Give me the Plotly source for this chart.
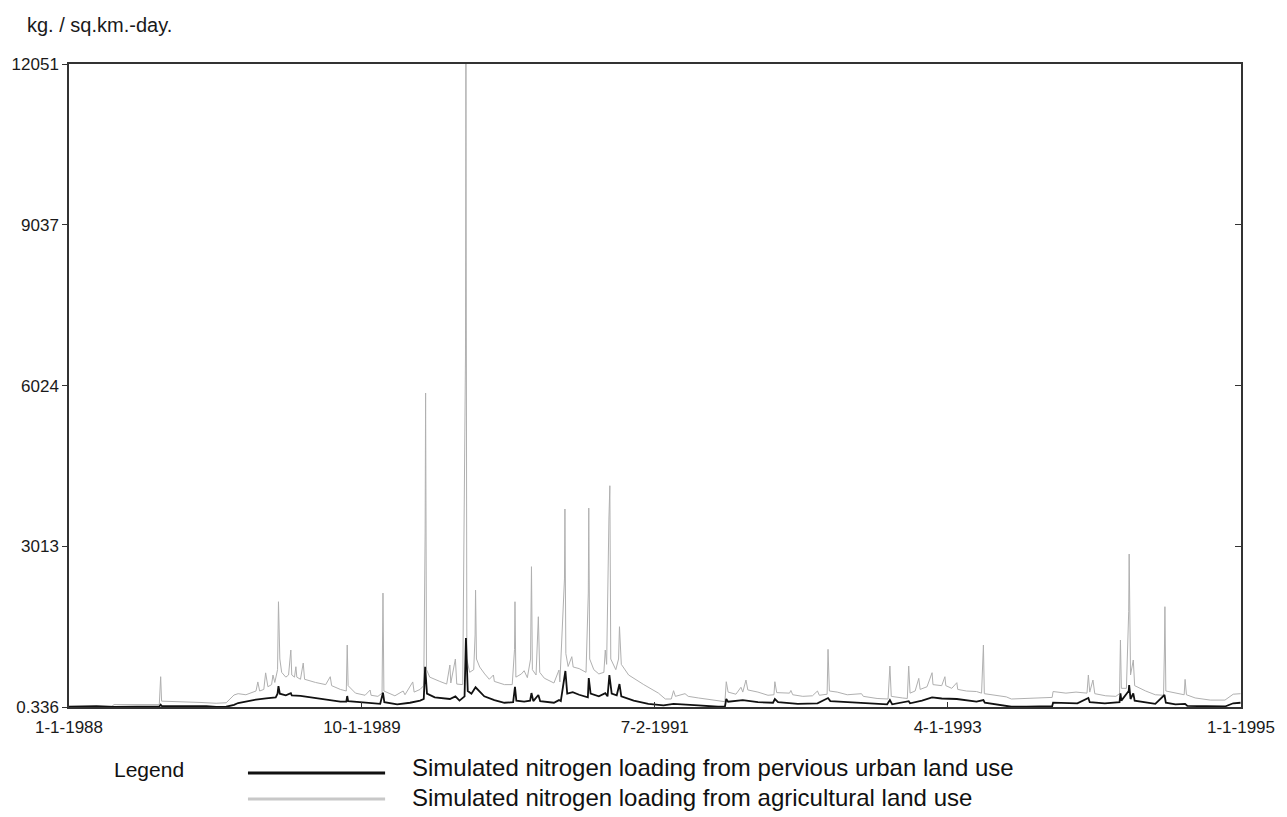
import pandas as pd
import plotly.graph_objects as go

# Day offsets from 1-1-1988 and simulated loadings (kg / sq.km.-day)
agri_days = [0, 93, 98, 197, 200, 202, 288, 321, 343, 354, 360, 369, 386, 408, 412, 416, 425, 429, 434, 442,
             445, 449, 455, 457, 460, 464, 473, 479, 484, 486, 492, 495, 497, 505, 511, 514, 538, 560, 570, 573,
             592, 605, 607, 609, 625, 646, 657, 659, 674, 683, 684, 685, 687, 711, 729, 733, 750, 753, 766, 774,
             777, 778, 780, 787, 809, 824, 831, 833, 843, 846, 859, 865, 866, 868, 874, 883, 886, 887, 889, 896,
             907, 917, 926, 928, 950, 967, 972, 973, 975, 987, 993, 1000, 1007, 1009, 1011, 1019, 1024, 1027,
             1037, 1058, 1069, 1071, 1081, 1082, 1084, 1089, 1097, 1100, 1113, 1128, 1133, 1134, 1136, 1145,
             1156, 1167, 1170, 1173, 1178, 1180, 1182, 1193, 1199, 1201, 1205, 1221, 1254, 1286, 1301, 1314,
             1319, 1323, 1344, 1351, 1373, 1416, 1431, 1434, 1438, 1455, 1466, 1470, 1477, 1481, 1503, 1525,
             1538, 1540, 1544, 1572, 1575, 1579, 1601, 1622, 1633, 1637, 1654, 1656, 1659, 1676, 1698, 1729,
             1733, 1763, 1787, 1791, 1794, 1818, 1829, 1832, 1835, 1846, 1854, 1857, 1872, 1883, 1885, 1904,
             1911, 1913, 1926, 1937, 1939, 1958, 1980, 1991, 1995, 1997, 2024, 2045, 2056, 2089, 2132, 2145,
             2147, 2175, 2197, 2221, 2224, 2227, 2234, 2238, 2262, 2284, 2292, 2294, 2296, 2307, 2312, 2313,
             2316, 2322, 2325, 2349, 2370, 2388, 2390, 2391, 2393, 2414, 2433, 2435, 2438, 2457, 2490, 2522,
             2540, 2556]
agri_vals = [5, 5, 45, 45, 568, 110, 85, 70, 80, 180, 225, 250, 230, 300, 470, 300, 330, 640, 380, 420,
             600, 460, 700, 1973, 900, 650, 560, 600, 1068, 600, 560, 755, 560, 520, 824, 520, 460, 420, 568, 400,
             330, 300, 1162, 400, 260, 220, 318, 220, 200, 260, 1162, 2136, 300, 210, 300, 230, 470, 280, 330, 400,
             3260, 5885, 700, 560, 480, 430, 787, 450, 900, 430, 420, 6560, 12051, 900, 650, 700, 1350, 2190, 900, 750,
             620, 520, 600, 480, 420, 420, 1080, 1973, 560, 620, 680, 550, 900, 2630, 700, 600, 1692, 650,
             540, 450, 693, 470, 2400, 3711, 1000, 760, 943, 750, 720, 650, 2136, 3729, 900, 700,
             620, 650, 1068, 800, 3542, 4147, 900, 700, 900, 1505, 800, 600, 420, 260, 150, 150,
             306, 200, 250, 200, 170, 110, 100, 474, 280, 240, 370, 280, 506, 320, 280, 220,
             230, 474, 270, 260, 310, 230, 200, 210, 300, 220, 240, 1081, 300, 280, 230, 250,
             200, 160, 150, 768, 200, 170, 160, 768, 260, 300, 537, 330, 380, 643, 420, 400,
             568, 400, 350, 456, 330, 300, 290, 260, 1162, 250, 210, 190, 150, 160, 170, 180,
             290, 260, 280, 260, 600, 280, 506, 250, 210, 200, 250, 1256, 350, 350, 1786, 2867,
             600, 881, 400, 300, 230, 220, 1106, 1880, 300, 260, 230, 518, 230, 170, 130, 130,
             240, 250]

urban_days = [0, 60, 100, 197, 200, 203, 300, 321, 343, 360, 369, 408, 430, 451, 455, 457, 460, 473, 484, 486,
              505, 549, 570, 592, 605, 607, 609, 657, 679, 685, 688, 716, 744, 766, 774, 777, 781, 798, 831, 843,
              852, 863, 866, 870, 878, 887, 891, 906, 928, 950, 969, 973, 976, 993, 1006, 1009, 1013, 1024, 1028,
              1058, 1069, 1073, 1083, 1087, 1099, 1113, 1132, 1134, 1138, 1156, 1170, 1175, 1179, 1184, 1195,
              1201, 1205, 1232, 1264, 1297, 1319, 1351, 1373, 1416, 1431, 1434, 1438, 1470, 1503, 1536, 1540,
              1547, 1590, 1633, 1656, 1661, 1698, 1742, 1785, 1791, 1796, 1832, 1835, 1861, 1883, 1904, 1937,
              1980, 1995, 1998, 2024, 2045, 2056, 2089, 2132, 2145, 2147, 2175, 2200, 2224, 2227, 2260, 2292,
              2294, 2296, 2312, 2313, 2316, 2322, 2325, 2349, 2370, 2390, 2393, 2414, 2435, 2440, 2490, 2522,
              2540, 2556]
urban_vals = [5, 15, 3, 10, 45, 15, 15, 3, 5, 40, 75, 140, 160, 180, 250, 393, 250, 220, 260, 220,
              210, 150, 130, 100, 100, 206, 110, 70, 60, 268, 90, 50, 80, 120, 150, 755, 250, 180, 150, 200,
              120, 200, 1293, 300, 250, 370, 330, 200, 130, 80, 90, 380, 120, 100, 120, 262, 110, 225, 110,
              80, 130, 110, 675, 250, 280, 230, 180, 543, 250, 200, 260, 200, 600, 250, 220,
              431, 200, 120, 60, 30, 60, 50, 30, 5, 5, 150, 100, 130, 90, 80, 150,
              90, 60, 70, 168, 110, 90, 60, 50, 130, 50, 110, 70, 120, 180, 160, 150,
              100, 131, 80, 50, 30, 5, 5, 10, 15, 81, 70, 70, 168, 90, 70, 90,
              256, 120, 300, 412, 150, 256, 120, 90, 60, 225, 80, 50, 60, 20, 10, 10,
              70, 80]

tick_dates = ["1988-01-01", "1989-10-01", "1991-07-02", "1993-04-01", "1995-01-01"]
tick_date_labels = ["1-1-1988", "10-1-1989", "7-2-1991", "4-1-1993", "1-1-1995"]
y_ticks = [0.336, 3013, 6024, 9037, 12051]
y_tick_labels = ["0.336", "3013", "6024", "9037", "12051"]

series_names = ["Simulated nitrogen loading from pervious urban land use",
                "Simulated nitrogen loading from agricultural land use"]

start = pd.Timestamp("1988-01-01")
agri_x = start + pd.to_timedelta(agri_days, unit="D")
urban_x = start + pd.to_timedelta(urban_days, unit="D")

FONT = "Liberation Sans, Arial, sans-serif"
GRAY = "#b0b0b0"
TXT = "#1a1a1a"

fig = go.Figure()
fig.add_trace(go.Scatter(x=agri_x, y=agri_vals, mode="lines", line=dict(color=GRAY, width=1),
                         showlegend=False, name=series_names[1]))
fig.add_trace(go.Scatter(x=urban_x, y=urban_vals, mode="lines", line=dict(color="#111111", width=1.8),
                         showlegend=False, name=series_names[0]))
# invisible trace so the right-hand axis (inside ticks) is drawn
fig.add_trace(go.Scatter(x=[agri_x[0]], y=[y_ticks[0]], yaxis="y2", mode="markers",
                         marker=dict(opacity=0), showlegend=False, hoverinfo="skip"))

fig.update_layout(
    width=1287, height=817,
    margin=dict(l=67, r=41, t=64, b=110),
    paper_bgcolor="white", plot_bgcolor="white",
    font=dict(family=FONT, size=17, color=TXT),
    xaxis=dict(range=[tick_dates[0], tick_dates[-1]], tickvals=tick_dates, ticktext=tick_date_labels,
               ticks="inside", ticklen=5, tickcolor="#333", showline=True, linecolor="#333", linewidth=1.5,
               mirror=True, showgrid=False, zeroline=False, tickfont=dict(size=17),
               ticklabelstandoff=4),
    yaxis=dict(range=[y_ticks[0], y_ticks[-1]], tickvals=y_ticks, ticktext=y_tick_labels,
               ticks="outside", ticklen=5, tickcolor="#333", showline=True, linecolor="#333", linewidth=1.5,
               mirror=True, showgrid=False, zeroline=False, tickfont=dict(size=17)),
    yaxis2=dict(range=[y_ticks[0], y_ticks[-1]], tickvals=y_ticks, overlaying="y", side="right",
                ticks="inside", ticklen=6, tickcolor="#333", showticklabels=False, showline=False,
                showgrid=False, zeroline=False),
)

fig.add_annotation(text="kg. / sq.km.-day.", xref="paper", yref="paper", x=-0.0375, y=1.06,
                   xanchor="left", yanchor="middle", showarrow=False, font=dict(size=20, color=TXT))

# legend drawn below the plot
fig.add_annotation(text="Legend", xref="paper", yref="paper", x=0.0365, y=-0.097,
                   xanchor="left", yanchor="middle", showarrow=False, font=dict(size=21, color="#111"))
legend_rows = [(series_names[0], "#111111", -0.1026, -0.094), (series_names[1], "#c8c8c8", -0.1431, -0.141)]
for name, col, ly, ty in legend_rows:
    fig.add_shape(type="line", xref="paper", yref="paper", x0=0.1527, x1=0.2697, y0=ly, y1=ly,
                  line=dict(color=col, width=3))
    fig.add_annotation(text=name, xref="paper", yref="paper", x=0.2909, y=ty,
                       xanchor="left", yanchor="middle", showarrow=False, font=dict(size=24, color="#111"))

fig.write_html("out.html")
